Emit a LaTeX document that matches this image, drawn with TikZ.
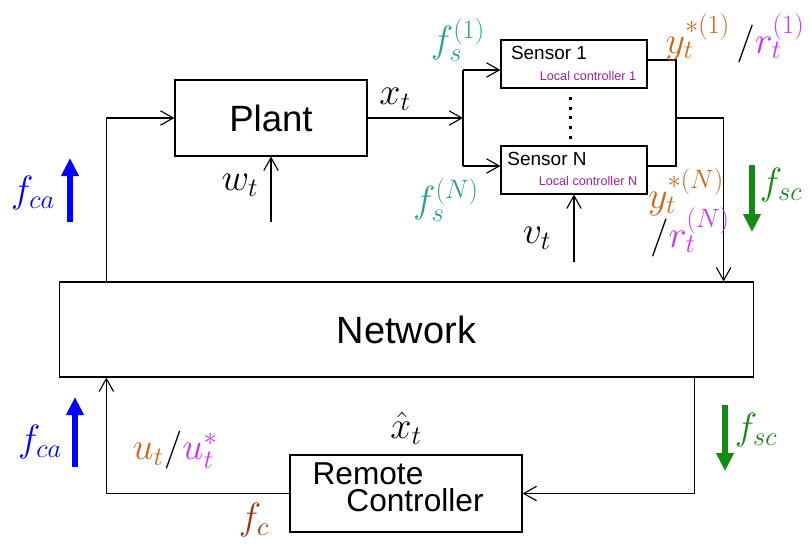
\RequirePackage{fix-cm}
\documentclass[tikz,border=0pt]{standalone}
\usepackage[no-math]{fontspec}
\newfontfamily\blockfont{Liberation Sans}
\usetikzlibrary{arrows.meta}
\definecolor{steal}{HTML}{2A9D95}
\definecolor{yorange}{HTML}{CC661A}
\definecolor{rviolet}{HTML}{CC33FF}
\definecolor{lcpurple}{HTML}{A0209F}
\definecolor{fcbrown}{HTML}{8B3A14}
\definecolor{scgreen}{HTML}{138A13}
\tikzstyle{block}=[draw, line width=0.8pt, inner sep=0pt, font=\blockfont]
\tikzstyle{sig}=[inner sep=0pt, font=\fontsize{27}{30}\selectfont]
\tikzstyle{wire}=[line width=0.8pt, -{Straight Barb[length=3.2mm,width=3.6mm]}]
\tikzstyle{fat}=[line width=4pt, -{Triangle[length=4.5mm,width=4.2mm]}]
\begin{document}
\begin{tikzpicture}[x=0.025cm, y=-0.025cm]
        \useasboundingbox (0,0) rectangle (811,548);
        % blocks
        \node[block, minimum width=4.8cm, minimum height=1.9cm, font=\blockfont\fontsize{26}{30}\selectfont] (plant) at (271,118) {Plant};
        \node[block, minimum width=17.325cm, minimum height=2.375cm, font=\blockfont\fontsize{27}{30}\selectfont] (net) at (406.5,329.5) {Network};
        \node[block, minimum width=3.65cm, minimum height=1.2cm] (sens1) at (574,64) {};
        \node[block, minimum width=3.65cm, minimum height=1.2cm] (sensN) at (574,170) {};
        \node[block, minimum width=5.8cm, minimum height=1.925cm] (remote) at (406,493.5) {};
        % texts inside the sensors and the controller
        \node[font=\blockfont\fontsize{13.5}{15}\selectfont, inner sep=0pt] (s1name) at (549,53) {Sensor 1};
        \node[font=\blockfont\fontsize{9}{10}\selectfont, text=lcpurple, inner sep=0pt] (s1lc) at (588,76) {Local controller 1};
        \node[font=\blockfont\fontsize{13.5}{15}\selectfont, inner sep=0pt] (sNname) at (547,159) {Sensor N};
        \node[font=\blockfont\fontsize{9}{10}\selectfont, text=lcpurple, inner sep=0pt] (sNlc) at (588,181) {Local controller N};
        \foreach \k in {0,...,4}
            \fill (568.5,96.8+9.7*\k) rectangle ++(3,3);
        \node[font=\blockfont\fontsize{22.5}{25}\selectfont, inner sep=0pt] (rname) at (368,474) {Remote};
        \node[font=\blockfont\fontsize{22.5}{25}\selectfont, inner sep=0pt] (cname) at (415,500) {Controller};
        % connectors
        \coordinate (split) at (463,118);
        \coordinate (join) at (676,118);
        \coordinate (wt) at (271,222);
        \coordinate (vt) at (574,262);
        \draw[wire] ([xshift=1.175cm]net.north west) |- (plant.west);
        \draw[wire] (plant.east) -- (split);
        \draw[line width=0.8pt] ([yshift=-0.15cm]split |- sens1.west) -- ([yshift=0.1cm]split |- sensN.west);
        \draw[wire] ([yshift=-0.15cm]split |- sens1.west) -- ([yshift=-0.15cm]sens1.west);
        \draw[wire] ([yshift=0.1cm]split |- sensN.west) -- ([yshift=0.1cm]sensN.west);
        \draw[line width=0.8pt] ([yshift=0.1cm]sens1.east) -| (join) |- ([yshift=0.1cm]sensN.east);
        \draw[wire] (join) -| ([xshift=-0.75cm]net.north east);
        \draw[wire] (wt) -- (plant.south);
        \draw[wire] (vt) -- (sensN.south);
        \draw[wire] (remote.west) -| ([xshift=1.175cm]net.south west);
        \draw[wire] ([xshift=-1.475cm]net.south east) |- (remote.east);
        % signal labels
        \node[sig] (xt) at (395,99) {$x_t$};
        \node[sig, text=steal] (fs1) at (458,40) {$f_s^{(1)}$};
        \node[sig, text=steal] (fsN) at (446,200) {$f_s^{(N)}$};
        \node[sig] (wlab) at (240,185) {$w_t$};
        \node[sig] (vlab) at (537,238) {$v_t$};
        \node[sig] (y1) at (735,38) {${\color{yorange}y_t^{*(1)}}\,/{\color{rviolet}r_t^{(1)}}$};
        \node[sig] (yN) at (686,192) {${\color{yorange}y_t^{*(N)}}$};
        \node[sig] (rN) at (690,232) {$/{\color{rviolet}r_t^{(N)}}$};
        \node[sig] (xhat) at (406,428) {$\hat{x}_t$};
        \node[sig] (ut) at (175,450) {${\color{yorange}u_t}/{\color{rviolet}u_t^*}$};
        \node[sig, text=fcbrown] (fc) at (254,520) {$f_c$};
        % channel arrows
        \coordinate (ca1a) at (70,222);
        \coordinate (ca1b) at (70,158);
        \coordinate (ca2a) at (75,467);
        \coordinate (ca2b) at (75,397);
        \coordinate (sc1a) at (752,165);
        \coordinate (sc1b) at (752,232);
        \coordinate (sc2a) at (725,405);
        \coordinate (sc2b) at (725,471);
        \draw[fat, blue] (ca1a) -- (ca1b);
        \draw[fat, blue] (ca2a) -- (ca2b);
        \draw[fat, scgreen] (sc1a) -- (sc1b);
        \draw[fat, scgreen] (sc2a) -- (sc2b);
        \node[sig, text=blue] (fca1) at (33,193) {$f_{ca}$};
        \node[sig, text=blue] (fca2) at (40,442) {$f_{ca}$};
        \node[sig, text=scgreen] (fsc1) at (781,185) {$f_{sc}$};
        \node[sig, text=scgreen] (fsc2) at (756,430) {$f_{sc}$};
    \end{tikzpicture}
\end{document}
